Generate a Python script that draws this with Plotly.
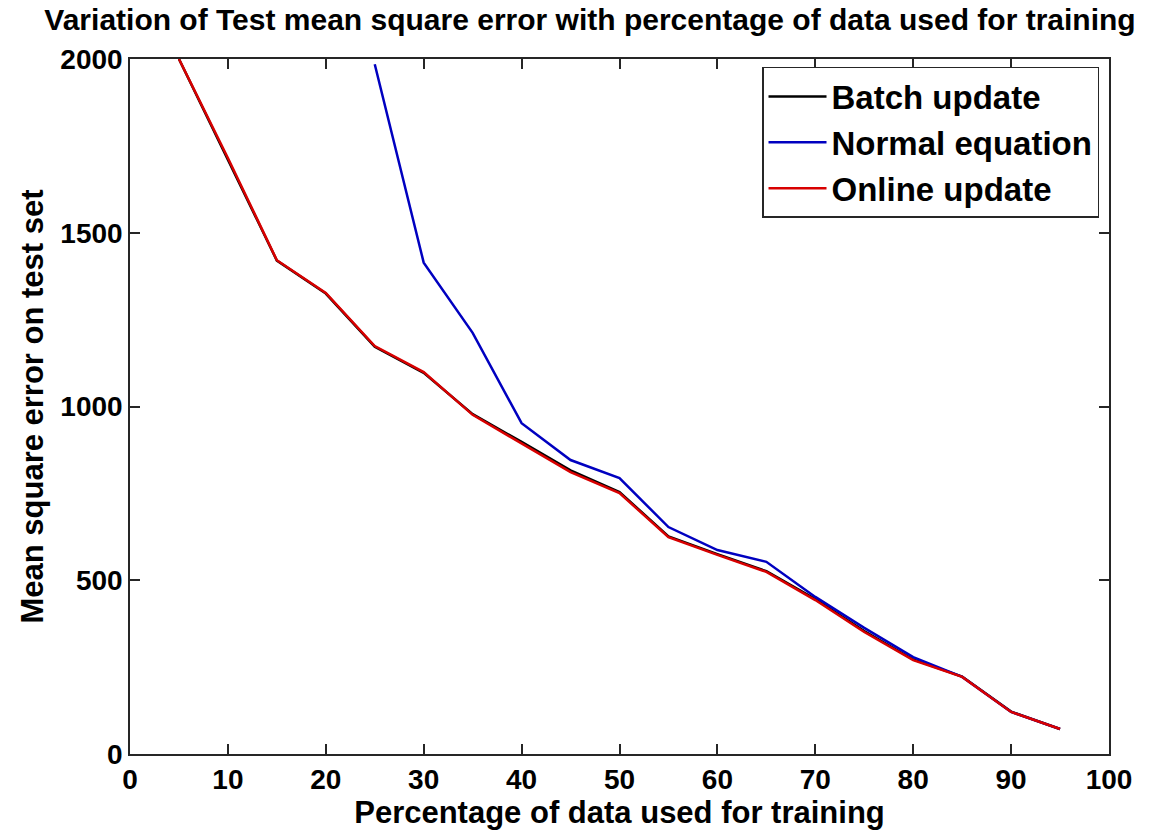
import plotly.graph_objects as go

pct = [5, 10, 15, 20, 25, 30, 35, 40, 45, 50, 55, 60, 65, 70, 75, 80, 85, 90, 95]
batch_update = [2000, 1712, 1420, 1325, 1172, 1097, 978, 898, 816, 754, 626, 575, 526, 446, 354, 272, 223, 122, 72]
normal_pct = [25, 30, 35, 40, 45, 50, 55, 60, 65, 70, 75, 80, 85, 90, 95]
normal_equation = [1985, 1414, 1212, 952, 846, 794, 653, 587, 553, 452, 363, 279, 222, 121, 72]
online_update = [2000, 1715, 1421, 1327, 1174, 1099, 976, 893, 811, 751, 624, 573, 524, 443, 351, 270, 222, 121, 72]

x_ticks = [0, 10, 20, 30, 40, 50, 60, 70, 80, 90, 100]
y_ticks = [0, 500, 1000, 1500, 2000]

FONT = "Liberation Sans, Arial, sans-serif"

fig = go.Figure()
fig.add_trace(go.Scatter(x=pct, y=batch_update, mode="lines", name="Batch update",
                         line=dict(color="#000000", width=2.5)))
fig.add_trace(go.Scatter(x=normal_pct, y=normal_equation, mode="lines", name="Normal equation",
                         line=dict(color="#0000c0", width=2.5)))
fig.add_trace(go.Scatter(x=pct, y=online_update, mode="lines", name="Online update",
                         line=dict(color="#d80000", width=2.5)))

axis_common = dict(
    showgrid=False, zeroline=False, showline=True, linecolor="#262626", linewidth=1.5,
    mirror="ticks", ticks="inside", ticklen=10, tickwidth=1.5, tickcolor="#262626",
    tickfont=dict(family=FONT, size=28, color="black", weight="bold"),
)

fig.update_layout(
    width=1155, height=832,
    margin=dict(l=130, r=46, t=59, b=78),
    paper_bgcolor="white", plot_bgcolor="white",
    font=dict(family=FONT, color="black"),
    title=dict(
        text="Variation of Test mean square error with percentage of data used for training",
        font=dict(family=FONT, size=30, color="black", weight="bold"),
        x=590 / 1155, xanchor="center", xref="container",
        y=1 - 19 / 832, yanchor="middle", yref="container",
    ),
    xaxis=dict(
        range=[0, 100], tickvals=x_ticks, ticktext=[str(v) for v in x_ticks],
        title=dict(text="Percentage of data used for training",
                   font=dict(family=FONT, size=31, color="black", weight="bold"), standoff=2),
        **axis_common,
    ),
    yaxis=dict(
        range=[0, 2000], tickvals=y_ticks, ticktext=[str(v) for v in y_ticks],
        title=dict(text="Mean square error on test set",
                   font=dict(family=FONT, size=31, color="black", weight="bold"), standoff=8),
        **axis_common,
    ),
    legend=dict(
        x=0.9898, y=0.9885, xanchor="right", yanchor="top",
        bgcolor="white", bordercolor="#262626", borderwidth=1.5,
        font=dict(family=FONT, size=33, color="black", weight="bold"),
        itemwidth=58, tracegroupgap=0,
    ),
    showlegend=True,
)

fig.write_html("out.html")
